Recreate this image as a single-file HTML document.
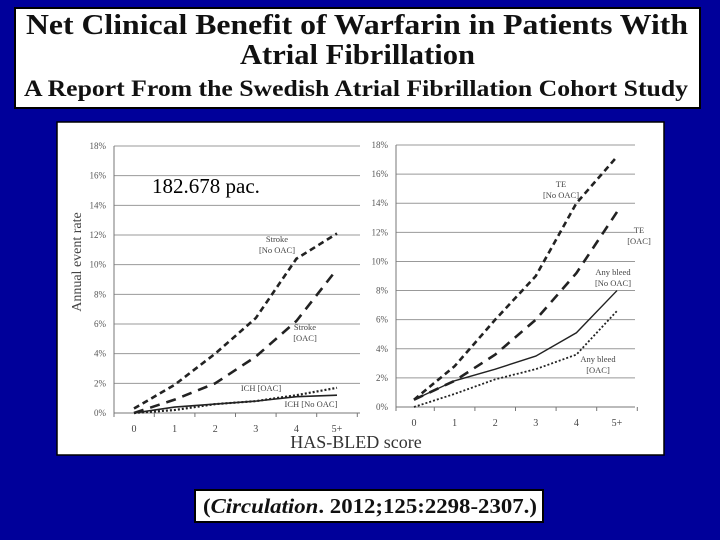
<!DOCTYPE html>
<html><head><meta charset="utf-8"><style>
html,body{margin:0;padding:0;background:#00009a;}
svg{display:block}
text{font-family:"Liberation Serif",serif;}
</style></head><body>
<svg id="s" width="720" height="540" xmlns="http://www.w3.org/2000/svg">
<rect x="0" y="0" width="720" height="540" fill="#00009a"/>
<g>
<rect x="15" y="8" width="685" height="100" fill="#fff" stroke="#000" stroke-width="2"/>
<text x="26" y="34" font-size="28" font-weight="bold" textLength="662" lengthAdjust="spacingAndGlyphs" fill="#111">Net Clinical Benefit of Warfarin in Patients With</text>
<text x="240" y="64" font-size="28" font-weight="bold" textLength="235" lengthAdjust="spacingAndGlyphs" fill="#111">Atrial Fibrillation</text>
<text x="24" y="96" font-size="23" font-weight="bold" textLength="664" lengthAdjust="spacingAndGlyphs" fill="#111">A Report From the Swedish Atrial Fibrillation Cohort Study</text>
</g>
<rect x="57" y="122" width="607" height="333" fill="#fff" stroke="#000" stroke-width="1.5"/>
<g id="left"></g>
<g id="right"></g>
<text x="77" y="266" font-size="14" fill="#444" transform="rotate(-90 77 262)" text-anchor="middle">Annual event rate</text>
<text x="356" y="448" font-size="18" fill="#333" text-anchor="middle">HAS-BLED score</text>
<text x="152" y="193" font-size="21" fill="#000">182.678 pac.</text>
<g>
<rect x="195" y="490" width="348" height="32" fill="#fff" stroke="#000" stroke-width="2"/>
<text x="203" y="513" font-size="21" font-weight="bold" fill="#111" textLength="334" lengthAdjust="spacingAndGlyphs">(<tspan font-style="italic">Circulation</tspan>. 2012;125:2298-2307.)</text>
</g>
</svg>
<script>
const categories=["0","1","2","3","4","5+"];
const yTicks=[0,2,4,6,8,10,12,14,16,18];
const strokeNoOAC=[0.3,1.9,4.0,6.4,10.4,12.1];
const strokeOAC=[0,0.9,2.0,3.8,6.2,9.7];
const ichOAC=[0,0.2,0.6,0.8,1.2,1.7];
const ichNoOAC=[0,0.4,0.6,0.8,1.1,1.2];
const teNoOAC=[0.5,2.8,6.0,9.0,14.0,17.2];
const teOAC=[0.5,1.8,3.6,6.0,9.2,13.4];
const bleedNoOAC=[0.5,1.8,2.6,3.5,5.1,8.0];
const bleedOAC=[0,0.9,1.9,2.6,3.6,6.6];
const NS="http://www.w3.org/2000/svg";
function mk(tag,attrs,parent){const e=document.createElementNS(NS,tag);for(const k in attrs)e.setAttribute(k,attrs[k]);parent.appendChild(e);return e;}
function chart(g,cfg){
  const xs=i=>cfg.x0+i*cfg.dx, ys=v=>cfg.y0-(v/18)*(cfg.y0-cfg.y18);
  yTicks.forEach(t=>{
    const l=mk('line',{x1:cfg.ax,x2:cfg.right,y1:ys(t),y2:ys(t),stroke:t===0?'#777':'#999','stroke-width':1},g);
    
    
    const tx=mk('text',{x:cfg.ax-8,y:ys(t)+3,'font-size':9,fill:'#555','text-anchor':'end'},g);
    tx.textContent=t+'%';
    
    
  });
  mk('line',{x1:cfg.ax,x2:cfg.ax,y1:ys(18),y2:ys(0)+4,stroke:'#777'},g);
  categories.forEach((c,i)=>{
    const tx=mk('text',{x:xs(i),y:ys(0)+19,'font-size':10,fill:'#444','text-anchor':'middle'},g);
    tx.textContent=c;
    
    
    mk('line',{x1:xs(i)+cfg.dx/2,x2:xs(i)+cfg.dx/2,y1:ys(0),y2:ys(0)+4,stroke:'#777'},g);
  });
  cfg.series.forEach(s=>{
    const p=mk('polyline',{points:s.d.map((v,i)=>xs(i)+','+ys(v)).join(' '),fill:'none',stroke:'#222','stroke-width':s.w,'stroke-dasharray':s.dash},g);
    
    
  });
  cfg.labels.forEach(l=>{
    const t=mk('text',{x:l.x,y:l.y,'font-size':8.5,fill:'#444','text-anchor':'middle'},g);
    
    
    l.t.forEach((line,k)=>{const ts=mk('tspan',{x:l.x,dy:k?11:0},t);ts.textContent=line;});
  });
}
chart(document.getElementById('left'),{x0:134,dx:40.6,y0:413,y18:146,ax:114,right:360,
 series:[{d:strokeNoOAC,w:2.6,dash:'6,4',name:'stroke-no-oac-line'},{d:strokeOAC,w:2.6,dash:'10,7',name:'stroke-oac-line'},
 {d:ichOAC,w:2.2,dash:'2,2',name:'ich-oac-line'},{d:ichNoOAC,w:1.6,dash:'none',name:'ich-no-oac-line'}],
 labels:[{x:277,y:242,t:['Stroke','[No OAC]']},{x:305,y:330,t:['Stroke','[OAC]']},{x:261,y:391,t:['ICH [OAC]']},{x:311,y:407,t:['ICH [No OAC]']}]});
chart(document.getElementById('right'),{x0:414,dx:40.6,y0:407,y18:145,ax:396,right:635,
 series:[{d:teNoOAC,w:2.6,dash:'6,4',name:'te-no-oac-line'},{d:teOAC,w:2.6,dash:'10,7',name:'te-oac-line'},
 {d:bleedNoOAC,w:1.4,dash:'none',name:'any-bleed-no-oac-line'},{d:bleedOAC,w:1.8,dash:'2,2',name:'any-bleed-oac-line'}],
 labels:[{x:561,y:187,t:['TE','[No OAC]']},{x:639,y:233,t:['TE','[OAC]']},{x:613,y:275,t:['Any bleed','[No OAC]']},{x:598,y:362,t:['Any bleed','[OAC]']}]});
</script>
</body></html>
